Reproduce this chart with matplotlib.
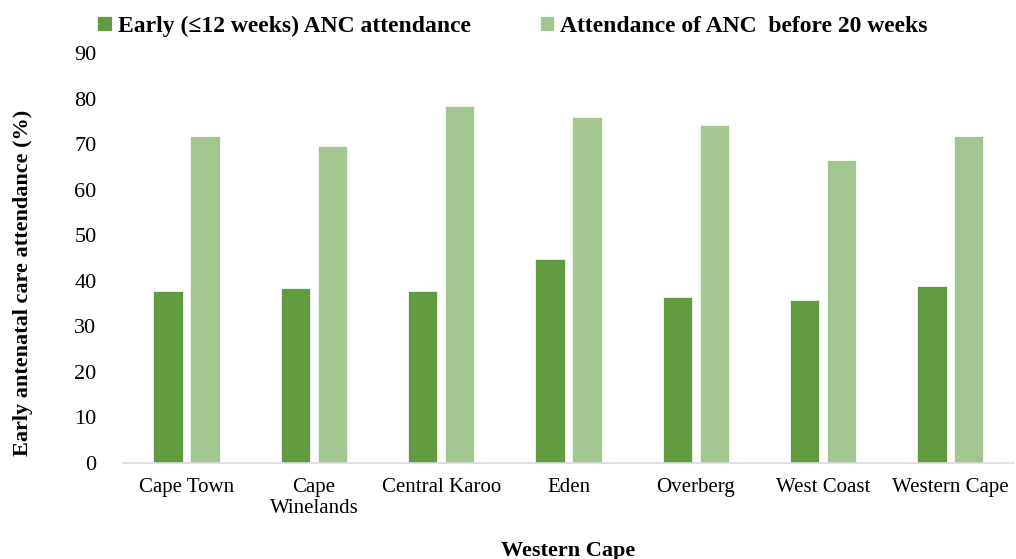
import numpy as np
import matplotlib
matplotlib.use("Agg")
import matplotlib.pyplot as plt

plt.rcParams['font.family'] = ['Liberation Serif', 'DejaVu Serif']

# Data
districts = ['Cape Town', 'Cape\nWinelands', 'Central Karoo', 'Eden',
             'Overberg', 'West Coast', 'Western Cape']
early_12wk = [37.8, 38.5, 37.8, 44.8, 36.4, 35.8, 38.9]
before_20wk = [71.8, 69.7, 78.4, 75.9, 74.3, 66.5, 71.9]

dark = '#629b3f'
light = '#a3c58f'

fig = plt.figure(figsize=(10.16, 5.59), dpi=100)
ax = fig.add_axes([0.121, 0.172, 0.877, 0.733])

x = np.arange(len(districts))
w = 0.23
ax.bar(x - 0.145, early_12wk, w, color=dark, edgecolor='white', linewidth=0.5,
       label='Early (≤12 weeks) ANC attendance')
ax.bar(x + 0.145, before_20wk, w, color=light, edgecolor='white', linewidth=0.5,
       label='Attendance of ANC  before 20 weeks')

ax.set_xlim(-0.5, len(districts) - 0.5)
ax.set_ylim(0, 90)
ax.set_yticks(range(0, 91, 10))
ax.set_xticks(x)
ax.set_xticklabels(districts, fontsize=15, linespacing=1.15)
ax.tick_params(axis='y', labelsize=16, length=0, pad=19)
ax.tick_params(axis='x', length=0, pad=11)

for s in ['top', 'right', 'left']:
    ax.spines[s].set_visible(False)
ax.spines['bottom'].set_color('#d9d9d9')
ax.spines['bottom'].set_linewidth(1.2)

ax.set_xlabel('Western Cape', fontsize=16, fontweight='bold')
ax.xaxis.set_label_coords(0.5, -0.19)
ax.set_ylabel('Early antenatal care attendance (%)', fontsize=16,
              fontweight='bold')
ax.yaxis.set_label_coords(-0.101, 0.44)

fig.legend(loc='upper left', bbox_to_anchor=(0.075, 1.01), ncol=2,
           frameon=False, prop={'weight': 'bold', 'size': 17},
           handlelength=0.6, handleheight=0.6, handletextpad=0.25,
           columnspacing=2.95)

fig.savefig('out.png', dpi=100)
